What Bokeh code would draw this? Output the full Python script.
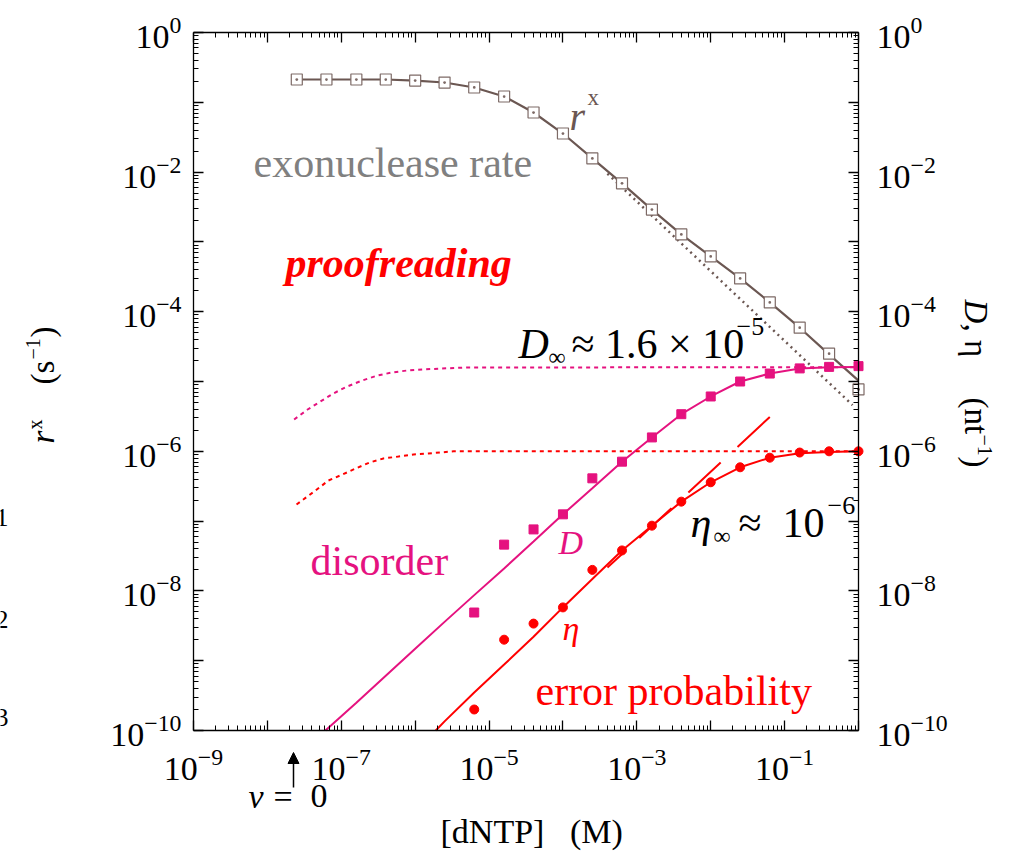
from bokeh.plotting import figure
from bokeh.models import LogAxis, FixedTicker, Label, Arrow, NormalHead, Range1d
from bokeh.embed import file_html
from bokeh.resources import INLINE
import math

# ---------------- data ----------------
dntp = [2.5e-8, 6.3e-8, 1.6e-7, 4.0e-7, 1.0e-6, 2.5e-6, 6.3e-6, 1.6e-5, 4.0e-5, 1.0e-4,
        2.5e-4, 6.3e-4, 1.6e-3, 4.0e-3, 1.0e-2, 2.5e-2, 6.3e-2, 0.16, 0.40, 1.0]
exo_rate = [0.212, 0.212, 0.212, 0.212, 0.205, 0.192, 0.163, 0.121, 0.0714, 0.0357,
            0.0157, 0.0069, 0.0029, 0.00128, 6.2e-4, 3.0e-4, 1.36e-4, 5.9e-5, 2.5e-5, 7.7e-6]
exo_line = [0.212, 0.212, 0.212, 0.212, 0.205, 0.192, 0.163, 0.121, 0.0714, 0.0357,
            0.0157, 0.0069, 0.0029, 0.00128, 6.2e-4, 3.0e-4, 1.36e-4, 5.9e-5, 2.45e-5, 1.03e-5]
exo_asym_x = [4.0e-4, 0.83]
exo_asym_y = [9.5e-3, 4.6e-6]

d_pts_x = dntp[6:]
d_pts = [4.9e-9, 4.6e-8, 7.6e-8, 1.25e-7, 4.1e-7, 7.1e-7, 1.58e-6, 3.4e-6, 6.1e-6,
         1.0e-5, 1.3e-5, 1.54e-5, 1.62e-5, 1.66e-5]
d_line_x = [6.1e-8] + dntp[2:]
d_line = [1.0e-10, 2.5e-10, 6.1e-10, 1.48e-9, 3.6e-9, 8.7e-9, 2.1e-8, 5.1e-8,
          1.25e-7, 2.95e-7, 7.1e-7, 1.58e-6, 3.4e-6, 6.1e-6, 1.0e-5, 1.3e-5, 1.54e-5,
          1.6e-5, 1.62e-5]
d_sat_x = [2.3e-8, 3.5e-8, 5.2e-8, 7.8e-8, 1.2e-7, 1.9e-7, 3.1e-7, 4.9e-7, 7.9e-7,
           1.3e-6, 2.2e-6, 5.1e-6, 1.0]
d_sat_y = [2.86e-6, 3.97e-6, 5.16e-6, 6.73e-6, 8.47e-6, 1.03e-5, 1.22e-5, 1.35e-5,
           1.44e-5, 1.49e-5, 1.53e-5, 1.59e-5, 1.6e-5]

eta_pts_x = dntp[6:]
eta_pts = [2.0e-10, 2.0e-9, 3.4e-9, 5.8e-9, 2.0e-8, 3.8e-8, 8.6e-8, 1.9e-7, 3.6e-7,
           5.9e-7, 8.1e-7, 9.6e-7, 1.0e-6, 1.0e-6]
eta_line_x = [1.9e-6] + dntp[5:]
eta_line = [1.0e-10, 1.35e-10, 3.5e-10, 8.8e-10, 2.2e-9, 5.8e-9, 1.48e-8, 3.8e-8, 8.6e-8,
            1.9e-7, 3.6e-7, 5.9e-7, 8.1e-7, 9.4e-7, 9.8e-7, 1.0e-6]
eta_lin_x = [0.063, 4.0e-4]
eta_lin_y = [3.1e-6, 2.16e-8]
eta_sat_x = [2.48e-8, 4.48e-8, 6.71e-8, 1.04e-7, 1.56e-7, 2.41e-7, 3.72e-7, 5.94e-7,
             9.48e-7, 1.51e-6, 3.3e-6, 1.0]
eta_sat_y = [1.73e-7, 2.74e-7, 3.82e-7, 4.66e-7, 5.67e-7, 6.9e-7, 7.9e-7, 8.4e-7,
             9.0e-7, 9.3e-7, 1.0e-6, 1.0e-6]

x_decades = [float("1e%d" % k) for k in range(-9, 1)]
y_decades = [float("1e%d" % k) for k in range(-10, 1)]

# ---------------- styles ----------------
FONT = "Liberation Serif"
BROWN = "#6b5752"
SQ_EDGE = "#7d6a66"
MAG = "#E5127F"
RED = "#FF0000"
NB = "\u00a0"

W, H = 1012, 851
# pixel box of the axes frame inside the picture
BOX_L, BOX_R, BOX_T, BOX_B = 193, 858, 32, 730
XDEC = (BOX_R - BOX_L) / 9.0
YDEC = (BOX_B - BOX_T) / 10.0

x_lo = 10 ** (-9 - BOX_L / XDEC)
x_hi = 10 ** (0 + (W - BOX_R) / XDEC)
y_lo = 10 ** (-10 - (H - BOX_B) / YDEC)
y_hi = 10 ** (0 + BOX_T / YDEC)

p = figure(width=W, height=H, x_axis_type="log", y_axis_type="log",
           x_range=Range1d(x_lo, x_hi), y_range=Range1d(y_lo, y_hi),
           min_border=0, min_border_left=0, min_border_right=0,
           min_border_top=0, min_border_bottom=0,
           output_backend="svg", toolbar_location=None)
p.grid.visible = False
p.outline_line_color = None
p.background_fill_color = "white"
p.border_fill_color = "white"


def minor_for(decs):
    out = []
    for d in decs[:-1]:
        for m in range(2, 10):
            out.append(m * d)
    return out


def style_axis(ax, decs, loc, show_labels=True):
    ax.ticker = FixedTicker(ticks=decs, minor_ticks=minor_for(decs))
    ax.fixed_location = loc
    ax.bounds = (decs[0], decs[-1])
    ax.axis_line_width = 1.3
    ax.axis_line_color = "black"
    ax.major_tick_in = 10
    ax.major_tick_out = 0
    ax.minor_tick_in = 5
    ax.minor_tick_out = 0
    ax.major_tick_line_width = 1.3
    ax.minor_tick_line_width = 1.0
    ax.major_tick_line_color = "black"
    ax.minor_tick_line_color = "black"
    ax.major_label_text_font = FONT
    ax.major_label_text_color = "black"
    if show_labels:
        ax.major_label_text_font_size = "34px"
        ov = {}
        for i, d in enumerate(decs):
            if i % 2 != 0:
                ov[d] = " "
        ax.major_label_overrides = ov
    else:
        ax.major_label_text_font_size = "1px"
        ax.major_label_text_alpha = 0
        ax.major_label_standoff = 0


style_axis(p.xaxis[0], x_decades, 1e-10)
p.xaxis[0].major_label_standoff = 18
style_axis(p.yaxis[0], y_decades, 1e-9)
p.yaxis[0].major_label_standoff = 12

top = LogAxis()
style_axis(top, x_decades, 1.0, show_labels=False)
p.add_layout(top, "above")
right = LogAxis()
style_axis(right, y_decades, 1.0)
right.major_label_standoff = 18
p.add_layout(right, "right")

# ---------------- curves ----------------
p.line(exo_asym_x, exo_asym_y, line_color=BROWN, line_width=2.5, line_dash="2 4")
p.line(dntp, exo_line, line_color=BROWN, line_width=2.2)
p.scatter(dntp, exo_rate, marker="square_dot", size=11, line_color=SQ_EDGE,
          fill_color="white", line_width=1.2)

p.line(d_sat_x, d_sat_y, line_color=MAG, line_width=2, line_dash="4 4")
p.line(d_line_x, d_line, line_color=MAG, line_width=2)
p.scatter(d_pts_x, d_pts, marker="square", size=9, color=MAG)

p.line(eta_sat_x, eta_sat_y, line_color=RED, line_width=2, line_dash="4 4")
p.line(eta_line_x, eta_line, line_color=RED, line_width=2)
p.line(eta_lin_x, eta_lin_y, line_color=RED, line_width=2, line_dash="44 23")
p.scatter(eta_pts_x, eta_pts, marker="circle", size=9, color=RED)

# ---------------- text ----------------
A = math.pi / 2


def lab(px, py, text, size, color="black", style="normal", angle=0.0, align="left"):
    corr = 0.3 * size
    if angle == 0:
        sx, sy = px, H - py + corr
    elif angle > 0:
        sx, sy = px - corr, H - py
    else:
        sx, sy = px + corr, H - py
    p.add_layout(Label(x=sx, y=sy, x_units="screen", y_units="screen", text=text,
                       text_font=FONT, text_font_size="%dpx" % size, text_color=color,
                       text_font_style=style, angle=angle, text_align=align,
                       text_baseline="alphabetic"))


lab(569, 128, "r", 40, BROWN, "italic")
lab(587, 104, "x", 23, BROWN)
lab(253, 175, "exonuclease rate", 42, "#808080")
lab(285, 275, "proofreading", 42, RED, "bold italic")

lab(518, 356, "D", 42, style="italic")
lab(548, 364, "\u221e", 24)
lab(571, 356, "\u2248 1.6 \u00d7 10", 42)
lab(736, 334, "\u22125", 26)

lab(690, 535, "\u03b7", 42, style="italic")
lab(713, 543, "\u221e", 24)
lab(738, 535, "\u2248", 42)
lab(782, 535, "10", 42)
lab(827, 513, "\u22126", 26)

lab(310, 573, "disorder", 42, MAG)
lab(558, 552, "D", 34, MAG, "italic")
lab(562, 638, "\u03b7", 34, RED, "italic")
lab(535, 703, "error probability", 42, RED)

lab(248, 806, "v", 34, style="italic")
lab(273, 806, "=", 34)
lab(310, 806, "0", 34)
p.add_layout(Arrow(x_start=293, y_start=H - 787, x_end=293, y_end=H - 752,
                   start_units="screen", end_units="screen",
                   line_width=1.5, line_color="black",
                   end=NormalHead(size=11, fill_color="black", line_color="black")))

lab(440, 841, "[dNTP]" + NB * 3 + "(M)", 34)

lab(52, 443, "r", 33, style="italic", angle=A)
lab(40, 429, "x", 20, angle=A)
lab(52, 384, "(s", 33, angle=A)
lab(38, 359, "\u22121", 20, angle=A)
lab(52, 337, ")", 33, angle=A)

lab(966, 299, "D", 33, style="italic", angle=-A)
lab(966, 323, "," + NB + "\u03b7", 33, angle=-A)
lab(966, 397, "(nt", 33, angle=-A)
lab(978, 434, "\u22121", 20, angle=-A)
lab(966, 456, ")", 33, angle=-A)

lab(8, 525, "1", 26, align="right")
lab(8, 627, "2", 26, align="right")
lab(8, 725, "3", 26, align="right")

open("out.html", "w").write(file_html(p, INLINE))
